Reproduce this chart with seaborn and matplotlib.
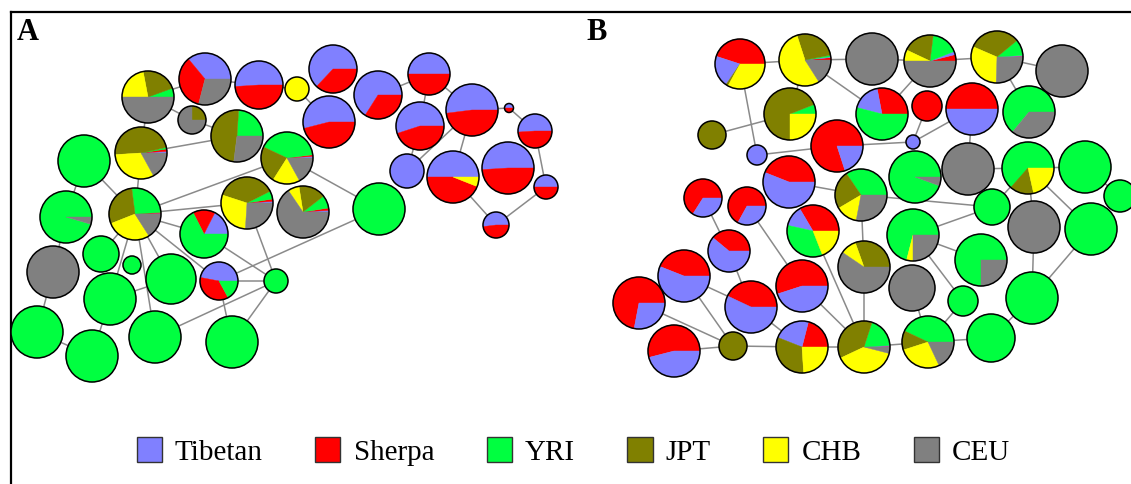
import matplotlib
matplotlib.use("Agg")
import matplotlib.pyplot as plt
from matplotlib.patches import Wedge, Circle, Patch
import pandas as pd
import seaborn as sns

# populations, colours and the slice order used in each panel
pops = ["Tibetan", "Sherpa", "YRI", "JPT", "CHB", "CEU"]
pop_colors = ["#8080ff", "#ff0000", "#00ff40", "#808000", "#ffff00", "#808080"]
order_a = [0, 1, 2, 3, 4, 5]
order_b = [1, 0, 2, 3, 4, 5]

YRI = (0, 0, 1, 0, 0, 0)
CEU = (0, 0, 0, 0, 0, 1)

# Panel A haplotype network: node position (px), radius and population mix (T, S, YRI, JPT, CHB, CEU)
a_x = [148, 205, 259, 297, 192, 237, 141, 84, 333, 378, 429, 329, 472, 420, 509, 535, 407, 453, 508, 546,
       496, 379, 303, 287, 247, 204, 219, 276, 66, 135, 53, 101, 132, 171, 110, 37, 92, 155, 232]
a_y = [98, 80, 86, 90, 121, 137, 154, 162, 70, 96, 75, 123, 111, 127, 109, 132, 172, 178, 169, 188,
       226, 210, 213, 159, 204, 235, 282, 282, 218, 215, 273, 255, 266, 280, 300, 333, 357, 338, 343]
a_r = [26, 26, 24, 12, 14, 26, 26, 26, 24, 24, 21, 26, 26, 24, 4.5, 17, 17, 26, 26, 12,
       13, 26, 26, 26, 26, 24, 19, 12, 26, 26, 26, 18, 9, 25, 26, 26, 26, 26, 26]
a_mix = [
    (0, 0, .055, .225, .22, .5), (.36, .35, 0, 0, 0, .29), (.51, .49, 0, 0, 0, 0), (0, 0, 0, 0, 1, 0),
    (0, 0, 0, .25, 0, .75), (0, 0, .24, .49, 0, .27), (.01, .015, .01, .475, .32, .17), YRI,
    (.63, .37, 0, 0, 0, 0), (.66, .34, 0, 0, 0, 0), (.5, .5, 0, 0, 0, 0), (.54, .46, 0, 0, 0, 0),
    (.52, .48, 0, 0, 0, 0), (.55, .45, 0, 0, 0, 0), (.5, .5, 0, 0, 0, 0), (.51, .49, 0, 0, 0, 0),
    (1, 0, 0, 0, 0, 0), (.5, .44, 0, 0, .06, 0), (.51, .49, 0, 0, 0, 0), (.5, .5, 0, 0, 0, 0),
    (.52, .48, 0, 0, 0, 0), YRI, (.01, .015, .08, .17, .07, .655), (.01, .01, .41, .23, .17, .17),
    (.01, .015, .05, .375, .29, .26), (.175, .15, .675, 0, 0, 0), (.47, .36, .17, 0, 0, 0), YRI,
    (0, 0, .955, 0, 0, .045), (.005, .005, .26, .29, .28, .16), CEU, YRI, YRI, YRI, YRI, YRI, YRI, YRI, YRI,
]
a_edges = [(0, 1), (0, 4), (0, 6), (4, 5), (6, 5), (1, 2), (2, 3), (7, 28), (7, 29), (6, 29),
           (29, 23), (29, 24), (29, 25), (29, 26), (29, 33), (29, 37), (29, 34), (29, 31), (28, 30),
           (30, 35), (35, 36), (34, 36), (34, 33), (37, 27), (38, 27), (38, 26), (26, 27), (25, 27),
           (26, 21), (24, 27), (23, 21), (3, 11), (9, 10), (10, 13), (10, 12), (13, 16), (12, 16),
           (12, 17), (12, 14), (14, 15), (15, 19), (19, 20), (17, 20)]

# Panel B haplotype network
b_x = [740, 805, 872, 790, 712, 757, 837, 789, 703, 747, 729, 684, 639, 674, 751, 802, 813, 733, 802, 864,
       864, 861, 915, 913, 913, 912, 928, 963, 930, 997, 1062, 882, 927, 972, 1029, 968, 1028, 1085, 1120,
       992, 1034, 1091, 981, 1032, 991]
b_y = [65, 61, 60, 115, 136, 156, 147, 183, 199, 207, 252, 277, 304, 352, 308, 287, 232, 347, 348, 348,
       268, 196, 178, 143, 236, 289, 343, 302, 62, 58, 72, 115, 107, 110, 113, 170, 169, 168, 197,
       208, 228, 230, 261, 299, 339]
b_r = [25, 26, 26, 26, 14, 10, 26, 26, 19, 19, 21, 26, 26, 26, 26, 26, 26, 14, 26, 26,
       26, 26, 26, 7, 26, 23, 26, 15, 26, 26, 26, 26, 15, 26, 26, 26, 26, 26, 16,
       18, 26, 26, 26, 26, 24]
b_mix = [
    (.205, .45, 0, .015, .33, 0), (.005, .015, .01, .27, .54, .16), CEU, (0, 0, .06, .69, .25, 0),
    (0, 0, 0, 1, 0, 0), (1, 0, 0, 0, 0, 0), (.2, .8, 0, 0, 0, 0), (.56, .44, 0, 0, 0, 0),
    (.34, .66, 0, 0, 0, 0), (.33, .67, 0, 0, 0, 0), (.61, .39, 0, 0, 0, 0), (.56, .44, 0, 0, 0, 0),
    (.28, .72, 0, 0, 0, 0), (.46, .54, 0, 0, 0, 0), (.57, .43, 0, 0, 0, 0), (.45, .55, 0, 0, 0, 0),
    (.13, .335, .345, 0, .19, 0), (0, 0, 0, 1, 0, 0), (.23, .21, 0, .32, .24, 0),
    (.005, .005, .19, .37, .39, .04), (0, 0, 0, .305, .1, .595), (0, 0, .345, .24, .135, .28),
    (0, 0, .945, 0, 0, .055), (1, 0, 0, 0, 0, 0), (0, 0, .71, 0, .04, .25), CEU,
    (0, 0, .43, .12, .27, .18), YRI, (.02, .04, .17, .2, .07, .5), (.005, .005, .1, .325, .31, .255),
    CEU, (.18, .28, .54, 0, 0, 0), (0, 1, 0, 0, 0, 0), (.5, .5, 0, 0, 0, 0), (0, 0, .64, 0, 0, .36),
    CEU, (0, 0, .635, .15, .215, 0), YRI, YRI, YRI, CEU, YRI, (0, 0, .75, 0, 0, .25), YRI, YRI,
]
b_edges = [(0, 1), (1, 2), (1, 31), (0, 5), (4, 3), (5, 6), (7, 21), (2, 28), (28, 29), (29, 30),
           (28, 31), (29, 34), (32, 23), (23, 33), (6, 23), (33, 35), (35, 36), (36, 37), (36, 39),
           (36, 40), (36, 41), (37, 38), (21, 39), (24, 39), (21, 20), (20, 19), (16, 19), (9, 15),
           (15, 19), (24, 27), (24, 42), (25, 26), (26, 27), (26, 44), (44, 43), (43, 40), (43, 41),
           (26, 19), (18, 19), (18, 17), (17, 13), (17, 12), (17, 11), (11, 14), (14, 18), (14, 10),
           (10, 8), (1, 3)]


def edge_table(xs, ys, edges, tag):
    rows = []
    for n, (i, j) in enumerate(edges):
        rows.append({"edge": f"{tag}{n}", "x": xs[i], "y": ys[i]})
        rows.append({"edge": f"{tag}{n}", "x": xs[j], "y": ys[j]})
    return rows


def draw_pies(ax, xs, ys, rs, mixes, order):
    for x, y, r, mix in zip(xs, ys, rs, mixes):
        total = sum(mix)
        start = 0.0
        for k in order:
            f = mix[k] / total
            if f <= 0:
                continue
            a1, a2 = start * 360, (start + f) * 360
            # y axis is inverted, so negate angles to go counter-clockwise on screen
            ax.add_patch(Wedge((x, y), r, -a2, -a1, fc=pop_colors[k], ec=pop_colors[k],
                               lw=0.3, zorder=3))
            start += f
        ax.add_patch(Circle((x, y), r, fill=False, ec="black", lw=1.1, zorder=4))


sns.set_theme(style="white")
plt.rcParams["font.family"] = ["Liberation Serif", "DejaVu Serif"]
plt.rcParams["text.color"] = "black"

W, H = 1131, 485
fig = plt.figure(figsize=(W / 100, H / 100), dpi=100)
left, top = 11, 13
ax = fig.add_axes([left / W, 0, 1 - left / W, 1 - top / H])

edges_df = pd.DataFrame(edge_table(a_x, a_y, a_edges, "a") + edge_table(b_x, b_y, b_edges, "b"))
sns.lineplot(data=edges_df, x="x", y="y", units="edge", estimator=None, sort=False,
             color="#8a8a8a", lw=1.1, ax=ax, legend=False, zorder=1)

draw_pies(ax, a_x, a_y, a_r, a_mix, order_a)
draw_pies(ax, b_x, b_y, b_r, b_mix, order_b)

ax.set_xlim(left, W)
ax.set_ylim(H, top)
ax.set_xticks([])
ax.set_yticks([])
ax.set_xlabel("")
ax.set_ylabel("")
for side in ["right", "bottom"]:
    ax.spines[side].set_visible(False)
for side in ["left", "top"]:
    ax.spines[side].set_color("black")
    ax.spines[side].set_linewidth(1.6)

ax.text(17, 40, "A", fontsize=22, fontweight="bold", color="black")
ax.text(586, 40, "B", fontsize=22, fontweight="bold", color="black")

handles = [Patch(facecolor=c, edgecolor="#333333", lw=1.0, label=p) for p, c in zip(pops, pop_colors)]
fig.legend(handles=handles, loc="center", bbox_to_anchor=(0.507, 0.068), ncol=6, frameon=False,
           fontsize=21, labelcolor="black", handlelength=0.86, handleheight=0.96,
           handletextpad=0.45, columnspacing=1.8)

fig.savefig("out.png", dpi=100)
